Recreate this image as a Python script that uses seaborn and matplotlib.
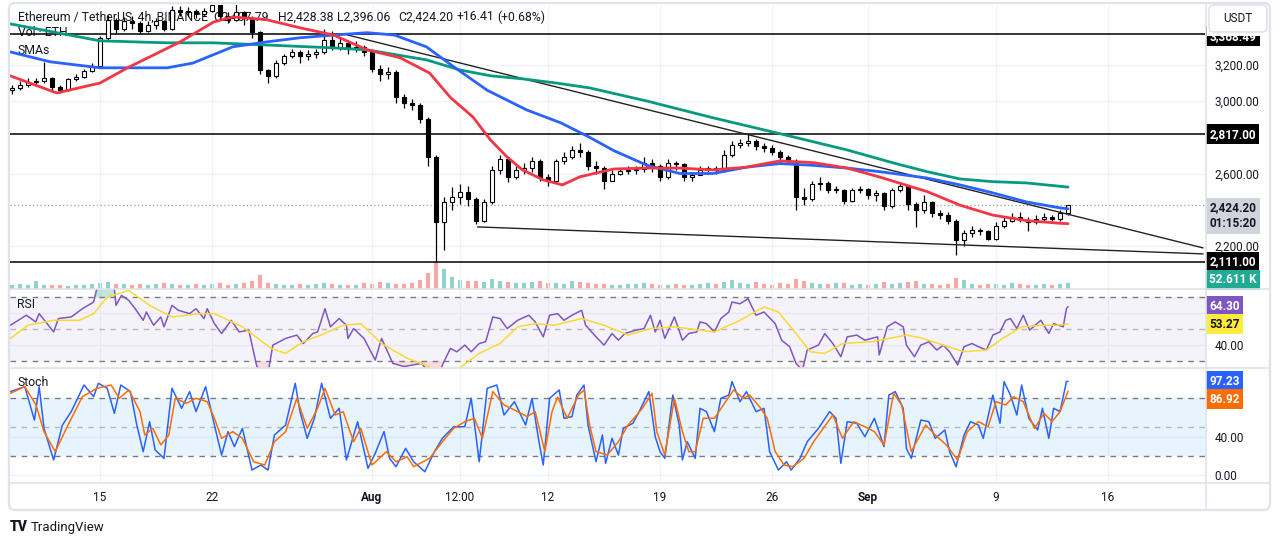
import numpy as np
import pandas as pd
import matplotlib
matplotlib.use("Agg")
import matplotlib.pyplot as plt
import seaborn as sns
from matplotlib.patches import FancyBboxPatch, Rectangle
from matplotlib.lines import Line2D
from matplotlib import transforms

sns.set_style("white")
plt.rcParams["font.family"] = ["Roboto", "DejaVu Sans"]

# ---- data (x = days since 2024-07-01, Jul 15 = 14.0) ----
candle_start = "2024-07-09 12:00"   # 12h candles
first_open = 3060
closes = [3075, 3090, 3105, 3110, 3130, 3080, 3060, 3120, 3135, 3165,
          3195, 3350, 3450, 3400, 3440, 3430, 3385, 3420, 3440, 3400,
          3505, 3490, 3500, 3480, 3500, 3530, 3470, 3450, 3490, 3460,
          3380, 3170, 3140, 3210, 3250, 3270, 3250, 3260, 3270, 3340,
          3300, 3320, 3290, 3300, 3270, 3180, 3150, 3160, 3020, 2990,
          2980, 2900, 2690, 2330, 2440, 2470, 2500, 2460, 2340, 2440,
          2620, 2680, 2580, 2620, 2630, 2670, 2580, 2560, 2670, 2690,
          2730, 2720, 2640, 2630, 2560, 2600, 2615, 2620, 2625, 2660,
          2640, 2580, 2660, 2650, 2580, 2590, 2620, 2630, 2620, 2700,
          2760, 2770, 2780, 2750, 2740, 2720, 2690, 2670, 2470, 2460,
          2540, 2550, 2510, 2510, 2450, 2510, 2515, 2480, 2490, 2420,
          2510, 2530, 2430, 2400, 2440, 2380, 2370, 2340, 2230, 2270,
          2290, 2280, 2240, 2310, 2340, 2360, 2345, 2330, 2350, 2360,
          2350, 2380, 2424.20]
highs = [3090, 3110, 3125, 3130, 3216, 3135, 3090, 3130, 3150, 3180,
         3210, 3360, 3476, 3460, 3465, 3470, 3440, 3440, 3460, 3450,
         3525, 3525, 3520, 3510, 3515, 3545, 3535, 3490, 3540, 3500,
         3470, 3390, 3180, 3225, 3260, 3290, 3280, 3280, 3290, 3400,
         3390, 3350, 3340, 3330, 3310, 3280, 3200, 3190, 3170, 3040,
         3010, 2990, 2910, 2700, 2470, 2525, 2540, 2530, 2470, 2460,
         2640, 2700, 2690, 2640, 2660, 2690, 2680, 2600, 2680, 2720,
         2750, 2770, 2730, 2670, 2640, 2620, 2630, 2640, 2640, 2690,
         2680, 2650, 2680, 2670, 2660, 2610, 2640, 2640, 2640, 2730,
         2780, 2790, 2817, 2790, 2770, 2760, 2730, 2700, 2680, 2520,
         2560, 2580, 2560, 2530, 2515, 2520, 2530, 2520, 2510, 2500,
         2520, 2555, 2535, 2440, 2480, 2450, 2400, 2390, 2350, 2290,
         2310, 2300, 2290, 2330, 2360, 2380, 2385, 2360, 2370, 2380,
         2370, 2400, 2428.38]
lows = [3040, 3060, 3080, 3085, 3100, 3060, 3045, 3055, 3110, 3130,
        3160, 3190, 3340, 3377, 3390, 3400, 3370, 3380, 3400, 3385,
        3395, 3470, 3470, 3460, 3470, 3490, 3450, 3430, 3440, 3420,
        3350, 3150, 3100, 3130, 3200, 3240, 3210, 3225, 3240, 3260,
        3280, 3280, 3260, 3270, 3250, 3160, 3110, 3120, 2990, 2960,
        2950, 2880, 2640, 2111, 2180, 2400, 2430, 2420, 2320, 2330,
        2430, 2600, 2555, 2570, 2600, 2610, 2560, 2530, 2550, 2650,
        2680, 2690, 2620, 2600, 2515, 2560, 2590, 2600, 2600, 2610,
        2610, 2560, 2570, 2620, 2560, 2560, 2590, 2600, 2600, 2610,
        2690, 2740, 2750, 2730, 2720, 2700, 2660, 2650, 2400, 2425,
        2450, 2510, 2490, 2490, 2430, 2440, 2490, 2460, 2450, 2400,
        2410, 2500, 2400, 2305, 2380, 2360, 2350, 2320, 2150, 2200,
        2250, 2260, 2230, 2235, 2300, 2330, 2330, 2280, 2320, 2330,
        2335, 2340, 2370]
volume_k = [240, 300, 240, 480, 240, 240, 240, 180, 240, 240, 300,
            360, 420, 300, 300, 240, 300, 240, 300, 360, 300, 240, 240, 300, 240, 300, 360, 240, 300, 360,
            480, 840, 360, 300, 240, 240, 300, 240, 300, 360, 300, 240, 240, 240, 360, 300, 420, 360, 300, 300, 360, 540,
            960, 1620, 1200, 720, 540, 480, 480, 420,
            600, 480, 420, 360, 360, 420, 480, 360, 360, 300, 480, 420, 360, 300, 300, 240, 240, 300, 300, 360,
            300, 240, 240, 300, 240, 240, 300, 360, 300, 420, 540, 360, 300, 420, 300, 240, 360, 300,
            600, 480, 360, 300, 300, 360, 360, 240, 300, 240, 300, 420, 300, 360, 420, 480, 300, 300, 240, 300,
            660, 540, 300, 240, 300, 300, 240, 360, 300, 240, 240, 300, 240, 300, 360]

sma50_t = [8.375, 11.3, 14.0, 15.7, 19.0, 21.1, 22.3, 24.4, 26.5, 28.6,
           30.7, 32.75, 34.6, 35.9, 37.3, 38.4, 39.4, 40.4, 41.7, 42.9,
           44.0, 46.1, 48.2, 50.25, 52.3, 54.4, 56.5, 58.6, 60.7, 62.75,
           65.7, 67.75, 69.8, 71.9, 74.0, 74.5]
sma50 = [3140, 3045, 3100, 3183, 3327, 3437, 3465, 3450, 3405, 3365,
         3283, 3240, 3155, 3020, 2913, 2786, 2695, 2620, 2565, 2537,
         2582, 2625, 2630, 2630, 2620, 2635, 2670, 2660, 2630, 2580,
         2500, 2425, 2370, 2340, 2325, 2323]
sma100_t = [8.375, 10.9, 14.0, 18.2, 19.8, 22.3, 24.4, 26.5, 28.6, 30.7,
            32.4, 34.4, 36.1, 38.2, 40.7, 42.8, 44.6, 46.1, 48.2, 50.25,
            52.3, 54.4, 56.5, 58.6, 60.7, 62.75, 63.6, 65.7, 67.75, 69.8,
            71.9, 74.0, 74.5]
sma100 = [3272, 3217, 3184, 3184, 3210, 3300, 3327, 3350, 3365, 3378,
          3365, 3300, 3190, 3060, 2950, 2880, 2800, 2727, 2645, 2600,
          2600, 2635, 2655, 2645, 2630, 2610, 2600, 2575, 2537, 2493,
          2443, 2410, 2405]
sma200_t = [8.375, 14.0, 18.2, 21.1, 24.4, 28.6, 30.7, 34.4, 36.5, 38.4,
            40.4, 42.5, 44.6, 48.2, 52.3, 56.5, 60.7, 63.6, 65.7, 67.75,
            69.8, 71.9, 74.5]
sma200 = [3427, 3333, 3322, 3322, 3310, 3294, 3283, 3228, 3172, 3140,
          3123, 3100, 3073, 3000, 2908, 2820, 2730, 2658, 2610, 2570,
          2555, 2548, 2525]

levels = [3368.49, 2817.00, 2111.00]
last_price = 2424.20
trend_upper = [(29.44, 3366), (82.94, 2189)]
trend_lower = [(37.6, 2305), (82.94, 2156)]

rsi_t = [8.4, 9.4, 9.98, 10.2, 11.1, 11.4, 12.2, 12.9, 13.6, 13.8,
         14.45, 14.9, 15.0, 15.34, 15.8, 16.2, 16.7, 16.9, 17.35, 17.8,
         18.0, 18.5, 18.9, 19.6, 20.0, 20.5, 20.7, 21.15, 21.6, 22.2,
         22.7, 23.3, 23.8, 24.5, 24.8, 25.6, 26.3, 26.7, 27.3, 27.6,
         28.06, 28.4, 28.95, 29.4, 29.5, 29.85, 30.5, 31.2, 31.6, 32.3,
         33.0, 34.1, 34.6, 35.0, 35.4, 35.9, 36.3, 36.8, 37.2, 37.7,
         38.1, 38.55, 39.0, 39.45, 40.1, 40.8, 41.2, 41.7, 42.1, 42.6,
         43.0, 43.5, 44.1, 44.35, 45.0, 45.5, 46.0, 46.4, 46.8, 47.5,
         48.0, 48.4, 48.7, 49.0, 49.3, 49.9, 50.4, 50.8, 51.3, 51.5,
         51.9, 52.4, 52.8, 53.3, 53.5, 54.0, 54.5, 55.0, 55.5, 56.2,
         56.6, 57.1, 57.5, 57.9, 58.2, 58.9, 59.3, 59.8, 60.3, 60.7,
         61.3, 61.8, 62.6, 62.7, 63.2, 63.7, 64.2, 64.4, 64.9, 65.3,
         65.8, 66.3, 66.7, 67.1, 67.6, 68.0, 68.5, 68.9, 69.4, 69.8,
         70.25, 70.6, 70.9, 71.3, 71.7, 72.1, 72.8, 73.3, 73.6, 74.2,
         74.4, 74.5]
rsi = [52.5, 58.8, 54.6, 59.8, 48.3, 56.7, 57.7, 62.9, 67.1, 75.4,
       79.6, 75.4, 65.0, 71.3, 68.1, 62.9, 55.6, 60.8, 52.5, 57.7,
       51.5, 65.0, 61.9, 59.8, 62.9, 56.7, 62.9, 53.5, 47.3, 55.6,
       48.3, 49.4, 26.5, 22.0, 40.0, 44.2, 46.3, 41.0, 47.3, 48.3,
       62.9, 51.5, 56.7, 52.5, 44.2, 50.4, 44.2, 30.6, 44.2, 28.5,
       26.5, 28.5, 22.0, 15.0, 27.5, 37.9, 35.8, 40.0, 35.8, 41.0,
       42.1, 57.7, 56.7, 50.4, 55.6, 58.8, 54.6, 45.2, 58.8, 59.8,
       55.6, 58.8, 61.9, 52.5, 45.2, 40.0, 47.3, 43.1, 47.3, 49.4,
       50.4, 58.8, 48.3, 55.6, 44.2, 57.7, 43.1, 47.3, 48.3, 54.6,
       53.5, 48.3, 56.7, 60.8, 67.1, 66.0, 69.2, 58.8, 60.8, 53.5,
       43.1, 39.0, 28.5, 24.0, 36.9, 40.0, 47.3, 41.0, 32.7, 45.2,
       46.3, 43.1, 45.2, 33.8, 51.5, 54.6, 51.5, 40.0, 32.7, 40.0,
       42.1, 36.9, 40.0, 35.8, 27.5, 39.0, 41.0, 39.0, 36.9, 46.3,
       48.3, 55.6, 56.7, 50.4, 58.8, 49.4, 55.6, 47.3, 53.5, 51.5,
       62.9, 64.30]
rsi_ma_t = [8.4, 9.5, 11.1, 12.7, 13.6, 14.45, 15.8, 17.1, 18.5, 20.25,
            21.15, 22.9, 24.7, 25.6, 26.7, 27.8, 29.2, 30.3, 31.6, 33.2,
            34.3, 35.6, 36.6, 37.7, 39.0, 40.1, 41.2, 42.4, 44.1, 45.5,
            47.0, 48.4, 49.9, 51.5, 52.4, 54.0, 55.5, 56.4, 57.5, 58.4,
            59.3, 60.4, 62.2, 64.4, 65.3, 66.7, 68.0, 69.4, 70.25, 71.6,
            72.9, 73.8, 74.5]
rsi_ma = [44.2, 52.5, 55.6, 55.6, 59.8, 70.2, 74.4, 65.0, 57.7, 59.8,
          59.8, 51.5, 37.9, 34.8, 42.1, 46.3, 52.5, 53.5, 41.0, 31.7,
          27.5, 20.2, 26.5, 34.8, 41.0, 51.5, 53.5, 52.5, 56.7, 52.5,
          46.3, 50.4, 51.5, 49.4, 48.3, 55.6, 64.0, 60.8, 47.3, 35.8,
          34.8, 41.0, 42.1, 46.3, 44.6, 40.0, 35.8, 36.9, 43.1, 51.5,
          52.5, 52.5, 53.27]

stoch_k_t = [8.4, 9.3, 9.9, 10.2, 10.5, 11.1, 11.65, 12.2, 13.0, 13.6,
             13.9, 14.45, 14.9, 15.3, 15.9, 16.3, 16.7, 17.1, 17.45, 18.0,
             18.5, 19.1, 19.6, 20.0, 20.6, 21.15, 21.6, 22.0, 22.4, 22.9,
             23.5, 24.05, 24.5, 24.9, 25.6, 26.2, 26.5, 26.95, 27.4, 27.85,
             28.4, 28.95, 29.4, 30.1, 30.75, 31.2, 31.75, 32.1, 32.5, 33.1,
             33.6, 34.3, 34.9, 35.4, 36.1, 36.8, 37.2, 37.7, 38.2, 38.8,
             39.25, 39.9, 40.6, 41.0, 41.4, 41.7, 42.1, 42.7, 43.0, 43.5,
             43.8, 44.25, 44.5, 45.0, 45.4, 45.6, 46.0, 46.4, 46.7, 47.3,
             47.7, 48.3, 48.7, 49.0, 49.3, 49.8, 50.2, 50.4, 50.7, 51.2,
             51.5, 51.9, 52.4, 52.8, 53.3, 53.5, 54.0, 54.4, 55.0, 55.5,
             55.85, 56.4, 56.9, 57.2, 57.75, 58.2, 58.9, 59.6, 60.0, 60.3,
             60.7, 61.3, 61.8, 62.4, 63.0, 63.3, 63.7, 64.2, 64.4, 64.7,
             65.3, 65.8, 66.2, 66.8, 67.1, 67.5, 68.0, 68.4, 68.9, 69.2,
             69.8, 70.25, 70.5, 70.9, 71.3, 71.6, 72.05, 72.6, 72.9, 73.3,
             73.6, 74.0, 74.4, 74.5]
stoch_k = [86.6, 91.7, 57.2, 91.7, 48.6, 15.9, 52.0, 65.9, 93.4, 81.4,
           95.2, 90.0, 64.1, 93.4, 86.6, 52.0, 24.5, 55.5, 26.2, 17.6,
           90.0, 69.3, 86.6, 65.9, 91.7, 52.0, 21.0, 45.2, 29.7, 48.6,
           5.5, 10.7, 5.5, 41.7, 52.0, 95.2, 65.9, 38.3, 59.0, 95.2,
           59.0, 69.3, 15.9, 55.5, 7.2, 22.8, 45.2, 17.6, 8.9, 27.9,
           14.1, 3.8, 24.5, 38.3, 50.3, 50.3, 79.7, 14.1, 90.0, 93.4,
           62.4, 76.2, 52.0, 79.7, 38.3, 10.7, 79.7, 88.3, 59.0, 60.7,
           83.0, 93.4, 52.0, 14.1, 41.7, 12.4, 38.3, 21.0, 48.6, 53.8,
           65.9, 86.6, 40.0, 24.5, 17.6, 83.0, 52.0, 15.9, 34.8, 17.6,
           69.3, 65.9, 45.2, 79.7, 83.0, 96.9, 76.2, 86.6, 65.9, 69.3,
           24.5, 5.5, 14.1, 5.5, 17.6, 34.8, 48.6, 65.9, 59.0, 12.4,
           55.5, 53.8, 40.0, 59.0, 29.7, 83.0, 86.6, 69.3, 27.9, 17.6,
           57.2, 55.5, 38.3, 46.9, 24.5, 8.9, 41.7, 55.5, 52.0, 38.3,
           83.0, 53.8, 96.9, 83.0, 62.4, 93.4, 59.0, 46.9, 69.3, 38.3,
           69.3, 65.9, 96.9, 97.23]
stoch_d_t = [8.4, 9.3, 10.0, 10.5, 11.2, 12.0, 12.9, 13.8, 14.7, 15.2,
             15.8, 16.5, 16.8, 17.3, 17.8, 18.3, 18.7, 19.4, 20.0, 20.7,
             21.15, 21.6, 22.3, 22.9, 23.6, 24.3, 24.9, 25.6, 26.3, 26.95,
             27.6, 28.06, 28.7, 29.2, 29.85, 30.3, 31.0, 31.9, 32.5, 33.2,
             33.6, 34.6, 35.4, 36.1, 36.8, 37.4, 37.9, 38.55, 39.25, 39.9,
             40.7, 41.2, 41.8, 42.25, 42.6, 43.2, 43.9, 44.25, 44.6, 45.0,
             45.7, 46.4, 47.0, 47.9, 48.5, 48.8, 49.3, 49.9, 50.4, 50.8,
             51.2, 51.7, 52.4, 53.1, 53.6, 54.2, 54.6, 55.3, 55.7, 56.2,
             56.75, 57.3, 58.0, 58.6, 59.8, 60.4, 61.1, 61.8, 62.4, 63.0,
             63.6, 64.1, 64.7, 65.6, 66.2, 66.9, 67.6, 68.2, 68.9, 69.5,
             70.0, 70.6, 71.1, 71.7, 72.4, 73.0, 73.5, 74.0, 74.5]
stoch_d = [84.8, 91.7, 72.8, 45.2, 24.5, 52.0, 81.4, 90.0, 93.4, 79.7,
           88.3, 65.9, 41.7, 48.6, 31.4, 41.7, 79.7, 74.5, 79.7, 76.2,
           59.0, 38.3, 45.2, 38.3, 14.1, 10.7, 34.8, 45.2, 79.7, 48.6,
           69.3, 90.0, 62.4, 65.9, 34.8, 48.6, 10.7, 24.5, 14.1, 19.3,
           9.0, 17.6, 34.8, 48.6, 55.5, 59.0, 38.3, 86.6, 72.8, 67.6,
           60.7, 65.9, 24.5, 65.9, 81.0, 59.0, 83.0, 88.3, 52.0, 24.5,
           21.0, 34.8, 52.0, 69.3, 84.8, 45.2, 21.0, 79.7, 45.2, 24.5,
           24.5, 59.0, 59.0, 76.2, 88.3, 79.7, 83.0, 69.3, 59.0, 24.5,
           10.7, 9.0, 17.6, 34.8, 62.4, 38.3, 55.5, 50.3, 45.2, 31.4,
           84.8, 72.8, 24.5, 52.0, 41.7, 31.4, 15.9, 45.2, 55.5, 50.3,
           76.2, 72.8, 81.4, 76.2, 48.6, 64.1, 55.5, 65.9, 86.92]

tick_t = [14, 21, 31, 36.5, 42, 49, 56, 62, 70, 77]
tick_labels = ["15", "22", "Aug", "12:00", "12", "19", "26", "Sep", "9", "16"]
price_ticks = [2200, 2600, 3000, 3200]

# ---- frame ----
W, H = 1280, 544
fig = plt.figure(figsize=(W / 100, H / 100), dpi=100)
fig.patch.set_facecolor("white")
TXT = "#131722"
GRID = "#f0f3fa"


def frame(x0, y0, x1, y1):
    return [x0 / W, 1 - y1 / H, (x1 - x0) / W, (y1 - y0) / H]


ax = fig.add_axes(frame(10, 5, 1205, 289))
ax_rsi = fig.add_axes(frame(10, 289, 1205, 368), sharex=ax)
ax_st = fig.add_axes(frame(10, 368, 1205, 483), sharex=ax)
vol_ax = ax.twinx()
ax.set_zorder(2)
ax.patch.set_visible(False)
vol_ax.set_zorder(1)

for a in (ax, ax_rsi, ax_st, vol_ax):
    for s in a.spines.values():
        s.set_visible(False)

# ---- candles ----
df = pd.DataFrame({"time": pd.date_range(candle_start, periods=len(closes), freq="12h"),
                   "close": closes, "high": highs, "low": lows, "vol": volume_k})
df["open"] = [first_open] + closes[:-1]
df["t"] = (df["time"] - pd.Timestamp("2024-07-01")) / pd.Timedelta(days=1)
up = df["close"] >= df["open"]
body_lo = df[["open", "close"]].min(axis=1)
body_h = (df["close"] - df["open"]).abs().clip(lower=3)

ax.vlines(df["t"], df["low"], df["high"], color="black", lw=0.9, zorder=3)
ax.bar(df["t"], body_h, bottom=body_lo, width=0.3, color=np.where(up, "white", "black"),
       edgecolor="black", linewidth=0.8, zorder=4)

vol_ax.bar(df["t"], df["vol"], width=0.3,
           color=np.where(up, "#26a69a", "#ef5350"), alpha=0.5, linewidth=0)
vol_ax.set_ylim(0, max(volume_k) * 10.5)
vol_ax.set_yticks([])

# moving averages
sns.lineplot(x=sma200_t, y=sma200, ax=ax, color="#089981", lw=2, estimator=None, zorder=5)
sns.lineplot(x=sma100_t, y=sma100, ax=ax, color="#2962ff", lw=2, estimator=None, zorder=5)
sns.lineplot(x=sma50_t, y=sma50, ax=ax, color="#f23645", lw=2, estimator=None, zorder=5)

for lv in levels:
    ax.axhline(lv, color="black", lw=1.1, zorder=3)
ax.axhline(last_price, color="#9598a1", lw=0.9, ls=(0, (1, 2)), zorder=2)
ax.plot(*zip(*trend_upper), color="#222222", lw=1, zorder=3)
ax.plot(*zip(*trend_lower), color="#222222", lw=1, zorder=3)

ax.set_xlim(8.375, 83.06)
ax.set_ylim(1962, 3531)
ax.set_yticks(price_ticks)
ax.set_yticklabels([f"{p:,.2f}" for p in price_ticks])
ax.set_ylabel("")

# ---- RSI ----
rsi_arr = np.array(rsi)
ax_rsi.axhspan(30, 70, color="#7e57c2", alpha=0.07, lw=0)
ax_rsi.fill_between(rsi_t, rsi_arr, 70, where=rsi_arr > 70, interpolate=True,
                    color="#089981", alpha=0.25, lw=0)
ax_rsi.fill_between(rsi_t, rsi_arr, 30, where=rsi_arr < 30, interpolate=True,
                    color="#f23645", alpha=0.18, lw=0)
for v, al in ((70, 1), (50, 0.5), (30, 1)):
    ax_rsi.axhline(v, color="#787b86", lw=1, ls=(0, (4, 4)), alpha=al)
sns.lineplot(x=rsi_t, y=rsi, ax=ax_rsi, color="#7e57c2", lw=1.1, estimator=None)
sns.lineplot(x=rsi_ma_t, y=rsi_ma, ax=ax_rsi, color="#fdd835", lw=1.1, estimator=None)
ax_rsi.set_ylim(25.6, 75.3)
ax_rsi.set_yticks([40, 60])
ax_rsi.set_yticklabels(["40.00", ""])
ax_rsi.set_ylabel("")

# ---- Stochastic ----
ax_st.axhspan(20, 80, color="#2196f3", alpha=0.1, lw=0)
for v, al in ((80, 1), (50, 0.5), (20, 1)):
    ax_st.axhline(v, color="#787b86", lw=1, ls=(0, (4, 4)), alpha=al)
sns.lineplot(x=stoch_k_t, y=stoch_k, ax=ax_st, color="#2962ff", lw=1.1, estimator=None)
sns.lineplot(x=stoch_d_t, y=stoch_d, ax=ax_st, color="#ff6d00", lw=1.1, estimator=None)
ax_st.set_ylim(-7.9, 111)
ax_st.set_yticks([0, 40])
ax_st.set_yticklabels(["0.00", "40.00"])
ax_st.set_ylabel("")

# ---- axes cosmetics ----
ax_st.set_xticks(tick_t)
ax_st.set_xticklabels(tick_labels)
for lbl in ax_st.get_xticklabels():
    if lbl.get_text() in ("Aug", "Sep"):
        lbl.set_fontweight("bold")
for a in (ax, ax_rsi, ax_st):
    a.yaxis.tick_right()
    a.tick_params(axis="y", length=0, pad=7, labelsize=8.5, colors=TXT)
    a.tick_params(axis="x", length=0, pad=6, labelsize=8.5, colors=TXT)
    a.grid(True, color=GRID, lw=1)
    a.set_axisbelow(True)
ax.tick_params(labelbottom=False)
ax_rsi.tick_params(labelbottom=False)


def tag(a, y, text, fc, tc, dy=0, va="center", yaxes=False):
    base = a.transAxes if yaxes else transforms.blended_transform_factory(a.transAxes, a.transData)
    tr = transforms.offset_copy(base, fig=fig, x=0, y=dy, units="dots")
    a.text(1.0035, y, text, transform=tr, ha="left", va=va, fontsize=8.5, color=tc,
           fontweight="bold", linespacing=1.3, clip_on=False, zorder=20,
           bbox=dict(boxstyle="square,pad=0.3", fc=fc, ec="none"))


tag(ax, levels[0], "3,368.49", "#000000", "white", dy=-2)
tag(ax, levels[1], "2,817.00", "#000000", "white")
tag(ax, levels[2], "2,111.00", "#000000", "white")
tag(ax, last_price, "2,424.20\n01:15:20", "#d1d4dc", TXT, dy=4, va="top")
tag(ax, 0.032, "52.611 K", "#22ab94", "white", yaxes=True)
tag(ax_rsi, rsi[-1], "64.30", "#7e57c2", "white")
tag(ax_rsi, rsi_ma[-1], "53.27", "#ffeb3b", TXT)
tag(ax_st, stoch_k[-1], "97.23", "#2962ff", "white")
tag(ax_st, stoch_d[-1], "86.92", "#ff6d00", "white", dy=-8)

# legend texts (under the candles)
legend_parts = [(18, "Ethereum / TetherUS, 4h, BINANCE"), (213, "O2,407.79"),
                (278, "H2,428.38"), (337, "L2,396.06"), (398, "C2,424.20"),
                (457, "+16.41"), (497, "(+0.68%)")]
for px, s in legend_parts:
    ax.text((px - 10) / 1195, 1 - 12 / 284, s, transform=ax.transAxes, fontsize=8.8,
            color=TXT, va="center", ha="left", zorder=1)
ax.text(8 / 1195, 1 - 28 / 284, "Vol · ETH", transform=ax.transAxes, fontsize=8.8,
        color=TXT, va="center", zorder=1)
ax.text(8 / 1195, 1 - 46 / 284, "SMAs", transform=ax.transAxes, fontsize=8.8,
        color=TXT, va="center", zorder=1)
ax_rsi.text(7 / 1195, 1 - 16 / 79, "RSI", transform=ax_rsi.transAxes, fontsize=8.8,
            color=TXT, va="center", zorder=6)
ax_st.text(8 / 1195, 1 - 15 / 115, "Stoch", transform=ax_st.transAxes, fontsize=8.8,
           color=TXT, va="center", zorder=6)

# ---- chrome in pixel coordinates ----
ident = transforms.IdentityTransform()
for y in (289, 368, 483):
    fig.add_artist(Line2D([9, 1270], [H - y, H - y], color="#e0e3eb", lw=1.2,
                          transform=ident, zorder=3))
fig.add_artist(Line2D([1205.5, 1205.5], [H - 510, H - 3], color="#e0e3eb", lw=1.2,
                      transform=ident, zorder=3))
fig.add_artist(FancyBboxPatch((9, H - 510), 1261, 507, boxstyle="round,pad=0,rounding_size=6",
                              fill=False, ec="#e0e3eb", lw=1.6, transform=ident, zorder=30))
# white strip behind the currency button hides the top of the 3,368.49 tag
fig.add_artist(Rectangle((1206.5, H - 36), 63, 33, fc="white", ec="none",
                         transform=ident, zorder=29))
fig.add_artist(FancyBboxPatch((1209, H - 32), 58, 27, boxstyle="round,pad=0,rounding_size=5",
                              fc="white", ec="#e0e3eb", lw=1.2, transform=ident, zorder=30))
fig.text(1238 / W, 1 - 19 / H, "USDT", ha="center", va="center", fontsize=8.5,
         color=TXT, zorder=31)
fig.text(10 / W, 1 - 527 / H, "TV", ha="left", va="center", fontsize=10,
         fontweight="heavy", color=TXT)
fig.text(31 / W, 1 - 527 / H, "TradingView", ha="left", va="center", fontsize=9.5,
         color=TXT)

fig.savefig("out.png", dpi=100, facecolor="white")
